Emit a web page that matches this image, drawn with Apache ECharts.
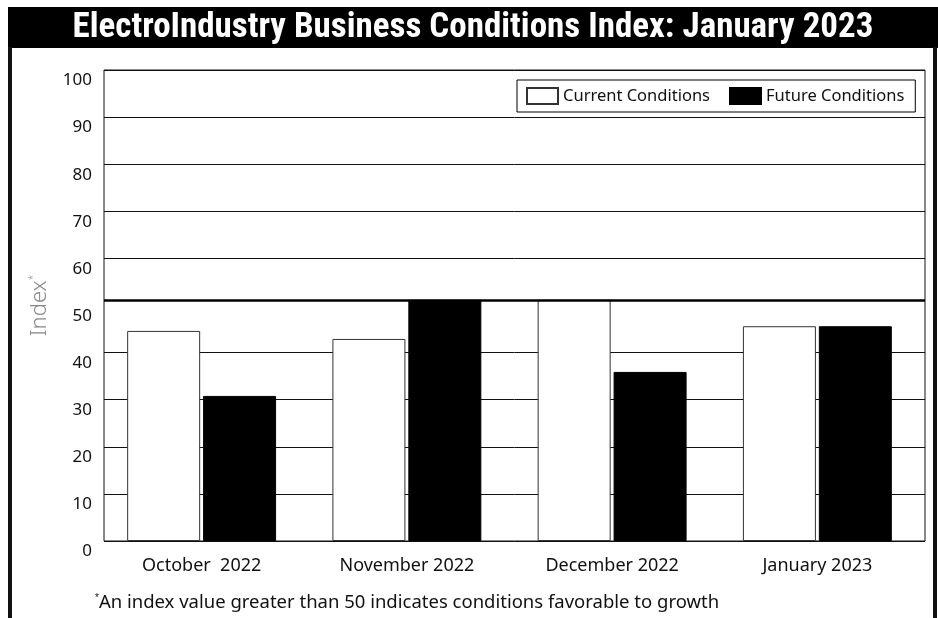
<!DOCTYPE html>
<html>
<head>
<meta charset="utf-8">
<title>ElectroIndustry Business Conditions Index</title>
<script src="https://cdn.jsdelivr.net/npm/echarts@6/dist/echarts.min.js"></script>
<style>
html, body { margin: 0; padding: 0; background: #fff; }
#main { width: 938px; height: 618px; }
</style>
</head>
<body>
<div id="main"></div>
<script>
// data
var months = ['October  2022', 'November 2022', 'December 2022', 'January 2023'];
var currentConditions = [44.6, 42.9, 51.2, 45.6];
var futureConditions = [30.8, 51.2, 35.9, 45.6];
var threshold = 51.2;   // the heavy "50" line
var yMin = 0, yMax = 100, yStep = 10;
var hiddenGridValue = 50;

var baseFont = "'Noto Sans', 'Open Sans', sans-serif";

// grid line colours, one per tick; the 50 line is replaced by the heavy line
var splitColors = [];
for (var v = yMin; v <= yMax; v += yStep) {
    splitColors.push(v === hiddenGridValue ? 'rgba(0,0,0,0)' : '#111');
}

var myChart = echarts.init(document.getElementById('main'));

var option = {
    animation: false,
    backgroundColor: '#fff',
    graphic: [
        { type: 'rect', shape: { x: 8, y: 7, width: 930, height: 41 }, style: { fill: '#000' } },
        { type: 'rect', shape: { x: 8, y: 47, width: 4, height: 571 }, style: { fill: '#111' } },
        { type: 'rect', shape: { x: 933, y: 47, width: 4, height: 571 }, style: { fill: '#111' } },
        {
            type: 'text', x: 473, y: 28,
            style: {
                text: 'ElectroIndustry Business Conditions Index: January 2023',
                fill: '#fff',
                font: "bold 35px 'Liberation Sans Narrow', 'Roboto Condensed', 'DejaVu Sans Condensed', sans-serif",
                textAlign: 'center', textVerticalAlign: 'middle'
            }
        },
        {
            type: 'text', x: 95, y: 603,
            style: {
                text: '{s|*}An index value greater than 50 indicates conditions favorable to growth',
                fill: '#111',
                fontSize: 18.5, fontFamily: baseFont,
                textAlign: 'left', textVerticalAlign: 'middle',
                rich: { s: { fontSize: 10, verticalAlign: 'top', fill: '#111', lineHeight: 20 } }
            }
        }
    ],
    legend: {
        data: ['Current Conditions', 'Future Conditions'],
        left: 517,
        top: 80,
        orient: 'horizontal',
        icon: 'rect',
        itemWidth: 31,
        itemHeight: 16,
        itemGap: 19,
        padding: [7, 11, 7, 9],
        borderColor: '#000',
        borderWidth: 1,
        textStyle: { fontSize: 16.5, fontFamily: baseFont, color: '#111' }
    },
    grid: [
        // frame, grid lines, y labels
        { left: 104, right: 13, top: 70, bottom: 77, show: true, borderColor: '#111', borderWidth: 1, backgroundColor: 'transparent' },
        // bars sit a little left of the frame
        { left: 99, right: 18, top: 70, bottom: 77 }
    ],
    xAxis: [
        { gridIndex: 0, type: 'category', data: months, show: false },
        {
            gridIndex: 1, type: 'category', data: months,
            axisLine: { show: false },
            axisTick: { show: false },
            axisLabel: { margin: 16, fontSize: 18, fontFamily: baseFont, color: '#111' }
        }
    ],
    yAxis: [
        {
            gridIndex: 0, type: 'value', min: yMin, max: yMax, interval: yStep,
            name: 'Index{s|*}',
            nameLocation: 'middle',
            nameGap: 52,
            nameRotate: 90,
            nameTextStyle: {
                fontSize: 22, fontWeight: 300, fontFamily: baseFont, color: '#888', lineHeight: 24,
                rich: { s: { fontSize: 10, verticalAlign: 'top', color: '#888', lineHeight: 24 } }
            },
            axisLine: { show: false },
            axisTick: { show: false },
            axisLabel: { margin: 12, fontSize: 17, fontFamily: baseFont, color: '#111', verticalAlign: 'top', padding: [2, 0, 0, 0] },
            splitLine: { show: true, lineStyle: { color: splitColors, width: 1 } }
        },
        { gridIndex: 1, type: 'value', min: yMin, max: yMax, show: false }
    ],
    series: [
        {
            name: 'Current Conditions',
            type: 'bar',
            xAxisIndex: 1, yAxisIndex: 1,
            data: currentConditions,
            barWidth: 73,
            barGap: '4%',
            itemStyle: { color: '#fff', borderColor: '#333', borderWidth: 1 }
        },
        {
            name: 'Future Conditions',
            type: 'bar',
            xAxisIndex: 1, yAxisIndex: 1,
            data: futureConditions,
            barWidth: 73,
            barGap: '4%',
            itemStyle: { color: '#000', borderColor: '#000', borderWidth: 1 }
        },
        {
            // carries the heavy reference line across the frame
            name: 'threshold',
            type: 'line',
            xAxisIndex: 0, yAxisIndex: 0,
            data: [],
            markLine: {
                silent: true,
                symbol: ['none', 'none'],
                label: { show: false },
                lineStyle: { color: '#000', width: 2.5, type: 'solid' },
                data: [{ yAxis: threshold }]
            },
            z: 5
        }
    ]
};

myChart.setOption(option, true);

window.addEventListener('resize', function () {
    myChart.resize();
});
</script>
</body>
</html>
